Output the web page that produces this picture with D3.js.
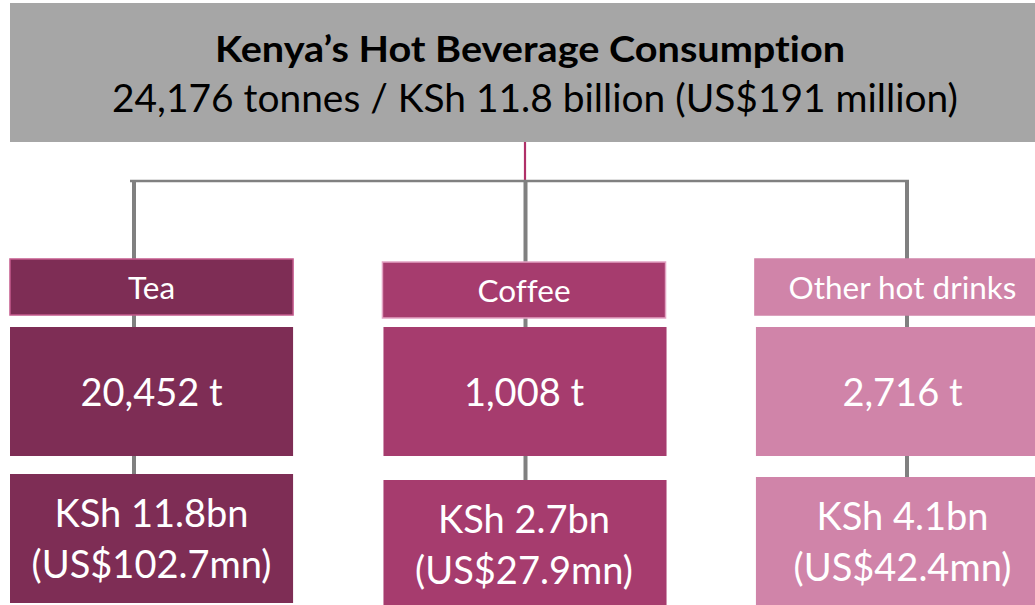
<!DOCTYPE html>
<html>
<head>
<meta charset="utf-8">
<script src="https://cdn.jsdelivr.net/npm/d3@7/dist/d3.min.js"></script>
<style>
  html, body { margin: 0; padding: 0; background: #ffffff; overflow: hidden; }
  svg { display: block; }
  text { font-family: Lato, "Open Sans", sans-serif; font-variant-ligatures: none; font-feature-settings: "liga" 0, "clig" 0; }
</style>
</head>
<body>
<svg id="chart" width="1035" height="605"></svg>
<script>
// ---- Data ----
const titleText = "Kenya\u2019s Hot Beverage Consumption";
const subtitleText = "24,176 tonnes / KSh 11.8 billion (US$191 million)";
const categories = ["Tea", "Coffee", "Other hot drinks"];
const volumeTonnes = [20452, 1008, 2716];
const valueKShBn = [11.8, 2.7, 4.1];
const valueUSDMn = [102.7, 27.9, 42.4];
const colors = ["#7e2d55", "#a63c6e", "#d084a9"];
const labelBorders = ["#c45a8c", "#e3a3c3", "#d084a9"];

const W = 1035, H = 605;
const svg = d3.select("#chart");

const x = d3.scaleBand().domain(categories).range([10, 1038]).paddingInner(0.24).paddingOuter(0);
const xLine = d3.scalePoint().domain(categories).range([134, 907]);
const color = d3.scaleOrdinal().domain(categories).range(colors);
const border = d3.scaleOrdinal().domain(categories).range(labelBorders);
const fmt = d3.format(",");

const rows = categories.map((c, i) => ({
  cat: c, t: volumeTonnes[i], ksh: valueKShBn[i], usd: valueUSDMn[i]
}));

// Header
svg.append("rect").attr("x", 10).attr("y", 3).attr("width", W).attr("height", 139).attr("fill", "#a6a6a6");
svg.append("text").attr("x", 530).attr("y", 62).attr("text-anchor", "middle")
  .attr("font-size", 37).attr("font-weight", 700).attr("fill", "#000")
  .attr("textLength", 630).attr("lengthAdjust", "spacingAndGlyphs").text(titleText);
svg.append("text").attr("x", 535).attr("y", 112).attr("text-anchor", "middle")
  .attr("font-size", 39).attr("fill", "#000")
  .attr("textLength", 846).attr("lengthAdjust", "spacingAndGlyphs").text(subtitleText);

// Connectors
svg.append("line").attr("x1", 525).attr("x2", 525).attr("y1", 142).attr("y2", 180)
  .attr("stroke", "#b03068").attr("stroke-width", 2.2);
svg.append("line").attr("x1", xLine(categories[0]) - 4).attr("x2", xLine(categories[2]) + 2)
  .attr("y1", 181).attr("y2", 181).attr("stroke", "#808080").attr("stroke-width", 2.6);
svg.selectAll("line.drop").data(rows).join("line").attr("class", "drop")
  .attr("x1", d => xLine(d.cat) + (d.cat === categories[1] ? 5 : 0))
  .attr("x2", d => xLine(d.cat) + (d.cat === categories[1] ? 5 : 0))
  .attr("y1", 181).attr("y2", 482)
  .attr("stroke", "#808080").attr("stroke-width", 4);

// Label boxes
const labelY = [259, 262, 259];
svg.selectAll("rect.label").data(rows).join("rect").attr("class", "label")
  .attr("x", d => x(d.cat)).attr("y", (d, i) => labelY[i])
  .attr("width", x.bandwidth()).attr("height", 56)
  .attr("fill", d => color(d.cat)).attr("stroke", d => border(d.cat)).attr("stroke-width", 1.5);
svg.selectAll("text.label").data(rows).join("text").attr("class", "label")
  .attr("x", (d, i) => x(d.cat) + x.bandwidth() / 2 + (i === 2 ? 6 : 0))
  .attr("y", (d, i) => labelY[i] + 40)
  .attr("text-anchor", "middle").attr("font-size", 31.5).attr("fill", "#fff")
  .text(d => d.cat);

// Volume boxes
svg.selectAll("rect.vol").data(rows).join("rect").attr("class", "vol")
  .attr("x", d => x(d.cat) + (d.cat === categories[0] ? 0 : 1)).attr("y", 327)
  .attr("width", x.bandwidth()).attr("height", 129)
  .attr("fill", d => color(d.cat));
svg.selectAll("text.vol").data(rows).join("text").attr("class", "vol")
  .attr("x", (d, i) => x(d.cat) + x.bandwidth() / 2 + (i === 2 ? 6 : 0)).attr("y", 406)
  .attr("text-anchor", "middle").attr("font-size", 38).attr("fill", "#fff")
  .text(d => fmt(d.t) + " t");

// Value boxes
const valY = [474, 480, 477];
svg.selectAll("rect.val").data(rows).join("rect").attr("class", "val")
  .attr("x", d => x(d.cat) + (d.cat === categories[0] ? 0 : 1)).attr("y", (d, i) => valY[i])
  .attr("width", x.bandwidth()).attr("height", (d, i) => 605 - valY[i] - (i === 0 ? 2 : 0))
  .attr("fill", d => color(d.cat));
const vt = svg.selectAll("text.val").data(rows).join("text").attr("class", "val")
  .attr("text-anchor", "middle").attr("font-size", 38).attr("fill", "#fff");
vt.append("tspan")
  .attr("x", (d, i) => x(d.cat) + x.bandwidth() / 2 + (i === 2 ? 6 : 0))
  .attr("y", (d, i) => valY[i] + 53)
  .text(d => "KSh " + d.ksh.toFixed(1) + "bn");
vt.append("tspan")
  .attr("x", (d, i) => x(d.cat) + x.bandwidth() / 2 + (i === 2 ? 6 : 0))
  .attr("y", (d, i) => valY[i] + 104)
  .text(d => "(US$" + d.usd.toFixed(1) + "mn)");
</script>
</body>
</html>
